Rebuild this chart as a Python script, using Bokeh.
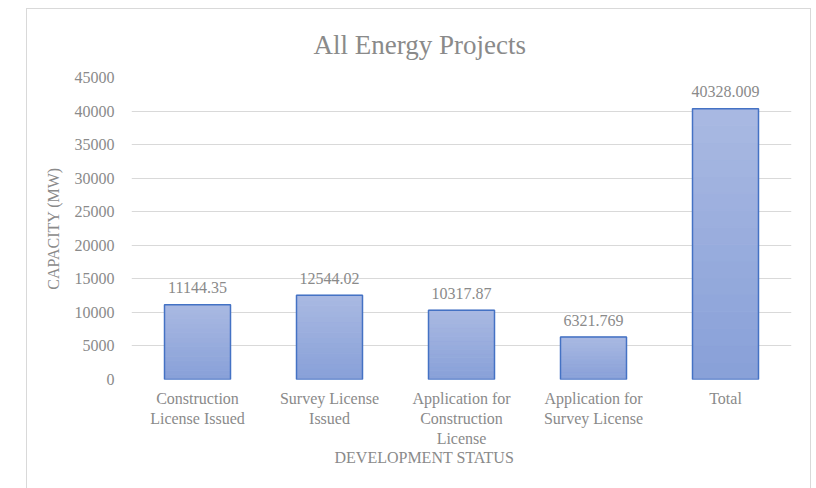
from bokeh.plotting import figure
from bokeh.models import FactorRange, Range1d, FixedTicker, ColumnDataSource, Title
from bokeh.embed import file_html
from bokeh.resources import INLINE
from bokeh.core.properties import value
import numpy as np

categories = ["Construction\nLicense Issued", "Survey License\nIssued",
              "Application for\nConstruction\nLicense", "Application for\nSurvey License", "Total"]
capacity = [11144.35, 12544.02, 10317.87, 6321.769, 40328.009]
labels = ["11144.35", "12544.02", "10317.87", "6321.769", "40328.009"]
y_ticks = [0, 5000, 10000, 15000, 20000, 25000, 30000, 35000, 40000, 45000]

FONT = "Liberation Serif"
TXT = "#8a8a8a"

p = figure(x_range=FactorRange(*categories, range_padding=0), y_range=Range1d(0, 45000),
           width=785, height=480, output_backend="svg", toolbar_location=None,
           min_border_left=104, min_border_right=21, min_border_top=68, min_border_bottom=110,
           title="All Energy Projects")
p.margin = (8, 0, 0, 26)
p.stylesheets = [":host { border-top: 1px solid #d9d9d9; border-left: 1px solid #d9d9d9; border-right: 1px solid #d9d9d9; box-sizing: border-box; }"]
p.outline_line_color = None

p.title.align = "left"
p.title.offset = 182
p.title.standoff = 36
p.title.text_font = FONT
p.title.text_font_size = "27px"
p.title.text_font_style = "normal"
p.title.text_color = TXT

# gradient bars built from slices of each value
N = 16
light = np.array([0xa9, 0xb9, 0xe2])
dark = np.array([0x88, 0xa0, 0xd8])
xs, bots, tops, cols = [], [], [], []
for c, v in zip(categories, capacity):
    for i in range(N):
        t = (i + 0.5) / N
        rgb = dark + (light - dark) * t
        xs.append(c)
        bots.append(v * i / N)
        tops.append(v * (i + 1) / N)
        cols.append("#%02x%02x%02x" % tuple(int(round(x)) for x in rgb))
p.vbar(x=xs, bottom=bots, top=tops, width=0.5, fill_color=cols, line_color=cols, line_width=1)
p.vbar(x=categories, top=capacity, width=0.5, fill_alpha=0, line_color="#4472c4", line_width=1.5)

src = ColumnDataSource(dict(x=categories, y=capacity, t=labels))
p.text(x="x", y="y", text="t", source=src, text_align="center", text_baseline="alphabetic",
       y_offset=-17, text_font=value(FONT), text_font_size="16px", text_color=TXT)

p.yaxis.ticker = FixedTicker(ticks=y_ticks)
p.ygrid.grid_line_color = "#d9d9d9"
p.ygrid.grid_line_width = 1
p.xgrid.grid_line_color = None

for ax in (p.xaxis[0], p.yaxis[0]):
    ax.axis_line_color = None
    ax.major_tick_line_color = None
    ax.minor_tick_line_color = None
    ax.major_label_text_font = FONT
    ax.major_label_text_font_size = "16px"
    ax.major_label_text_color = TXT
    ax.axis_label_text_font = FONT
    ax.axis_label_text_font_size = "16px"
    ax.axis_label_text_font_style = "normal"
    ax.axis_label_text_color = TXT

p.yaxis.axis_label = "CAPACITY (MW)"
p.yaxis.major_label_standoff = 11
p.yaxis.axis_label_standoff = 10
p.xaxis.major_label_standoff = 4
p.xaxis.major_label_orientation = "horizontal"

xtitle = Title(text="DEVELOPMENT STATUS", align="left", offset=203, standoff=-7,
               text_font=FONT, text_font_size="16px", text_font_style="normal", text_color=TXT)
p.add_layout(xtitle, "below")

open("out.html", "w").write(file_html(p, INLINE))
